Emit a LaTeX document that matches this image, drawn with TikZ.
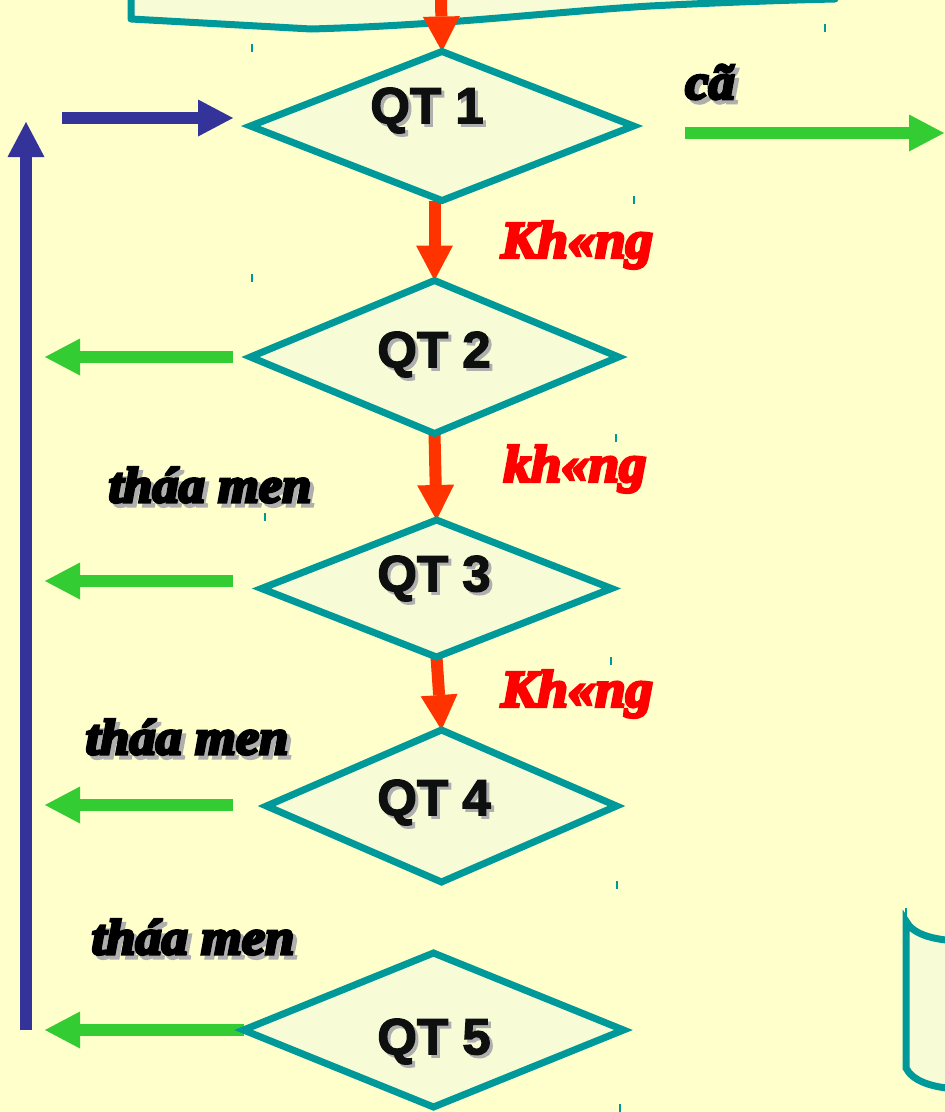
\documentclass[tikz,border=0pt]{standalone}
\usepackage{fontspec}
\setmainfont{Liberation Sans}
\newfontfamily\qtf{Liberation Sans}[FakeBold=2.5]
\newfontfamily\scrf{Liberation Serif}[FakeStretch=1.05, BoldItalicFeatures={FakeBold=6}]
\usetikzlibrary{arrows.meta,shapes.geometric,backgrounds}
\definecolor{bg}{RGB}{255,255,204}
\definecolor{dfill}{RGB}{247,252,214}
\definecolor{teal2}{RGB}{0,153,153}
\definecolor{grn}{RGB}{51,204,51}
\definecolor{blu}{RGB}{51,51,153}
\definecolor{org}{RGB}{255,51,0}
\definecolor{shd}{RGB}{175,175,175}
\definecolor{ink}{RGB}{14,16,16}
\tikzset{
  dia/.style={diamond, draw=teal2, fill=dfill, line width=7pt, inner sep=0pt, outer sep=0pt},
  fat/.style={line width=12pt, -{Triangle[length=35pt,width=37pt,line width=0pt]}},
  redarr/.style={fat, color=org},
  grnarr/.style={fat, color=grn},
  bluarr/.style={fat, color=blu},
  qt/.style={font=\qtf\bfseries\fontsize{51}{56}\selectfont, inner sep=0pt, text=ink},
  scr/.style={font=\scrf\bfseries\itshape\fontsize{50}{54}\selectfont, inner sep=0pt},
  redlab/.style={font=\scrf\bfseries\itshape\fontsize{52}{56}\selectfont, inner sep=0pt, text=red},
  tick/.style={draw=teal2, line width=1.5pt}
}
\newcommand\shtxt[2][3pt]{\leavevmode\rlap{\kern#1\raisebox{-#1}{\textcolor{shd}{#2}}}#2}
\begin{document}
\begin{tikzpicture}[x=1pt,y=-1pt]
\useasboundingbox (0,0) rectangle (945,1112);

% diamonds
\node[dia, minimum width=383pt, minimum height=149pt] (q1) at (442,126) {};
\node[dia, minimum width=368pt, minimum height=153pt] (q2) at (434.5,357) {};
\node[dia, minimum width=350pt, minimum height=137pt] (q3) at (436.5,588.5) {};
\node[dia, minimum width=350pt, minimum height=152pt] (q4) at (441.5,806) {};
\node[dia, minimum width=380pt, minimum height=154pt] (q5) at (433.5,1030) {};

% labels in diamonds
\node[qt] (t1) at (427,112) {\shtxt{QT 1}};
\node[qt] (t2) at (434,356) {\shtxt{QT 2}};
\node[qt] (t3) at (434,580) {\shtxt{QT 3}};
\node[qt] (t4) at (434,804) {\shtxt{QT 4}};
\node[qt] (t5) at (434,1043) {\shtxt{QT 5}};

% other labels
\node[scr] (co) at (710,84) {\shtxt[4pt]{cã}};
\node[scr] (th1) at (210,487) {\shtxt[4pt]{tháa men}};
\node[scr] (th2) at (187,739) {\shtxt[4pt]{tháa men}};
\node[scr] (th3) at (193,939) {\shtxt[4pt]{tháa men}};
\node[redlab] (k1) at (577,245) {Kh«ng};
\node[redlab] (k2) at (575,469) {kh«ng};
\node[redlab] (k3) at (577,694) {Kh«ng};

% small ticks
\coordinate (k01) at (252,44); \draw[tick] (k01) -- ++(0,8);
\coordinate (k02) at (825,24); \draw[tick] (k02) -- ++(0,8);
\coordinate (k03) at (252,274); \draw[tick] (k03) -- ++(0,8);
\coordinate (k04) at (634,196); \draw[tick] (k04) -- ++(0,8);
\coordinate (k05) at (616,434); \draw[tick] (k05) -- ++(0,8);
\coordinate (k06) at (265,513); \draw[tick] (k06) -- ++(0,8);
\coordinate (k07) at (611,657); \draw[tick] (k07) -- ++(0,8);
\coordinate (k08) at (617,881); \draw[tick] (k08) -- ++(0,8);
\coordinate (k09) at (906,908); \draw[tick] (k09) -- ++(0,8);
\coordinate (k10) at (620,1104); \draw[tick] (k10) -- ++(0,8);

% coordinates for free ends
\coordinate (topstart) at (441,0);
\coordinate (cstart) at (685,133); \coordinate (cend) at (944,133);
\coordinate (g2a) at (233,357); \coordinate (g2b) at (45,357);
\coordinate (g3a) at (233,581); \coordinate (g3b) at (45,581);
\coordinate (g4a) at (233,805); \coordinate (g4b) at (45,805);
\coordinate (g5b) at (45,1030);
\coordinate (bv1) at (26,1030); \coordinate (bv2) at (26,122);
\coordinate (bh1) at (62,118); \coordinate (bh2) at (233,118);

\begin{pgfonlayer}{background}
\fill[bg] (0,0) rectangle (945,1112);
% document shape at top
\filldraw[draw=teal2, fill=dfill, line width=7pt, line join=round]
  (131,-10) -- (131,19) -- (311,29) .. controls (450,25) and (550,12) .. (650,6)
  .. controls (730,2) and (790,0) .. (835,-1) -- (835,-20) -- (131,-20) -- cycle;
% cylinder at the right
\filldraw[draw=teal2, fill=dfill, line width=7pt]
  (960,941) .. controls (930,940) and (912,933) .. (906,921) -- (906,1068)
  .. controls (912,1080) and (930,1088) .. (960,1089) -- cycle;
% red arrows
\draw[redarr] (topstart) -- (q1.north);
\draw[redarr] (q2.north |- q1.south) -- (q2.north);
\draw[redarr] (q2.south) -- (q3.north);
\draw[redarr] (q3.south) -- (q4.north);
% green arrows
\draw[grnarr] (cstart) -- (cend);
\draw[grnarr] (g2a) -- (g2b);
\draw[grnarr] (g3a) -- (g3b);
\draw[grnarr] (g4a) -- (g4b);
\draw[grnarr] (q5.west) -- (g5b);
% blue loop arrows
\draw[bluarr] (bv1) -- (bv2);
\draw[bluarr] (bh1) -- (bh2);
\end{pgfonlayer}
\end{tikzpicture}
\end{document}
